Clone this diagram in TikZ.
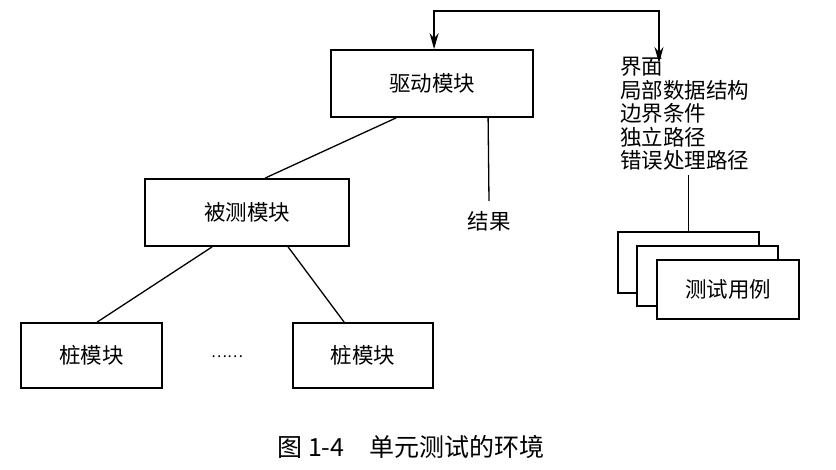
\documentclass[tikz,border=0pt]{standalone}
\usepackage{fontspec}
\newfontfamily\cjk{Noto Sans CJK SC}
\usetikzlibrary{arrows.meta,calc}
\begin{document}
\begin{tikzpicture}[x=1pt,y=-1pt,
  box/.style={draw, line width=1.8pt, fill=white, inner sep=0pt},
  lbl/.style={font=\cjk\fontsize{21.5}{23.5}\selectfont, inner sep=0pt},
  conn/.style={line width=1.3pt},
  tip/.style={line width=1.3pt, {Stealth[length=16pt,width=9pt]}-{Stealth[length=16pt,width=9pt]}}
]
\useasboundingbox[fill=white] (0,0) rectangle (836,470);
% modules
\node[box, lbl, minimum width=202pt, minimum height=67pt] (drv) at (432,83.5) {驱动模块};
\node[box, lbl, minimum width=204pt, minimum height=67pt] (mut) at (247,212.5) {被测模块};
\node[box, lbl, minimum width=141pt, minimum height=65pt] (stub1) at (91.5,355.5) {桩模块};
\node[box, lbl, minimum width=140pt, minimum height=65pt] (stub2) at (363,355.5) {桩模块};
\node[font=\cjk\fontsize{15}{15}\selectfont, inner sep=0pt] (dots) at (227,357) {……};
\node[lbl] (res) at (489,221) {结果};
% list
\node[lbl, anchor=north west, align=left] (lst) at (620,57)
  {界面\\局部数据结构\\边界条件\\独立路径\\错误处理路径};
% test case stack
\node[box, minimum width=141pt, minimum height=61pt] (tc1) at (688.5,262.5) {};
\node[box, minimum width=141pt, minimum height=60pt] (tc2) at (707.5,276) {};
\node[box, lbl, minimum width=142pt, minimum height=59pt] (tc3) at (728,289.5) {测试用例};
% connectors
\coordinate (top) at (659,11);
\draw[tip] ([xshift=104pt]drv.north west) |- (top) -- (top |- 0,63);
\draw[conn] ([xshift=66pt]drv.south west) -- ([xshift=121pt]mut.north west);
\draw[conn] ([xshift=158pt]drv.south west) -- ([yshift=10pt]res.north);
\draw[conn] ([xshift=68pt]mut.south west) -- ([xshift=77pt]stub1.north west);
\draw[conn] ([xshift=144pt]mut.south west) -- ([xshift=52pt]stub2.north west);
\draw[conn] (tc1.north |- 0,175) -- (tc1.north);
% caption
\node[font=\cjk\fontsize{25}{25}\selectfont, inner sep=0pt] (cap) at (411,447) {图 1-4\hspace{1em}单元测试的环境};
\end{tikzpicture}
\end{document}
